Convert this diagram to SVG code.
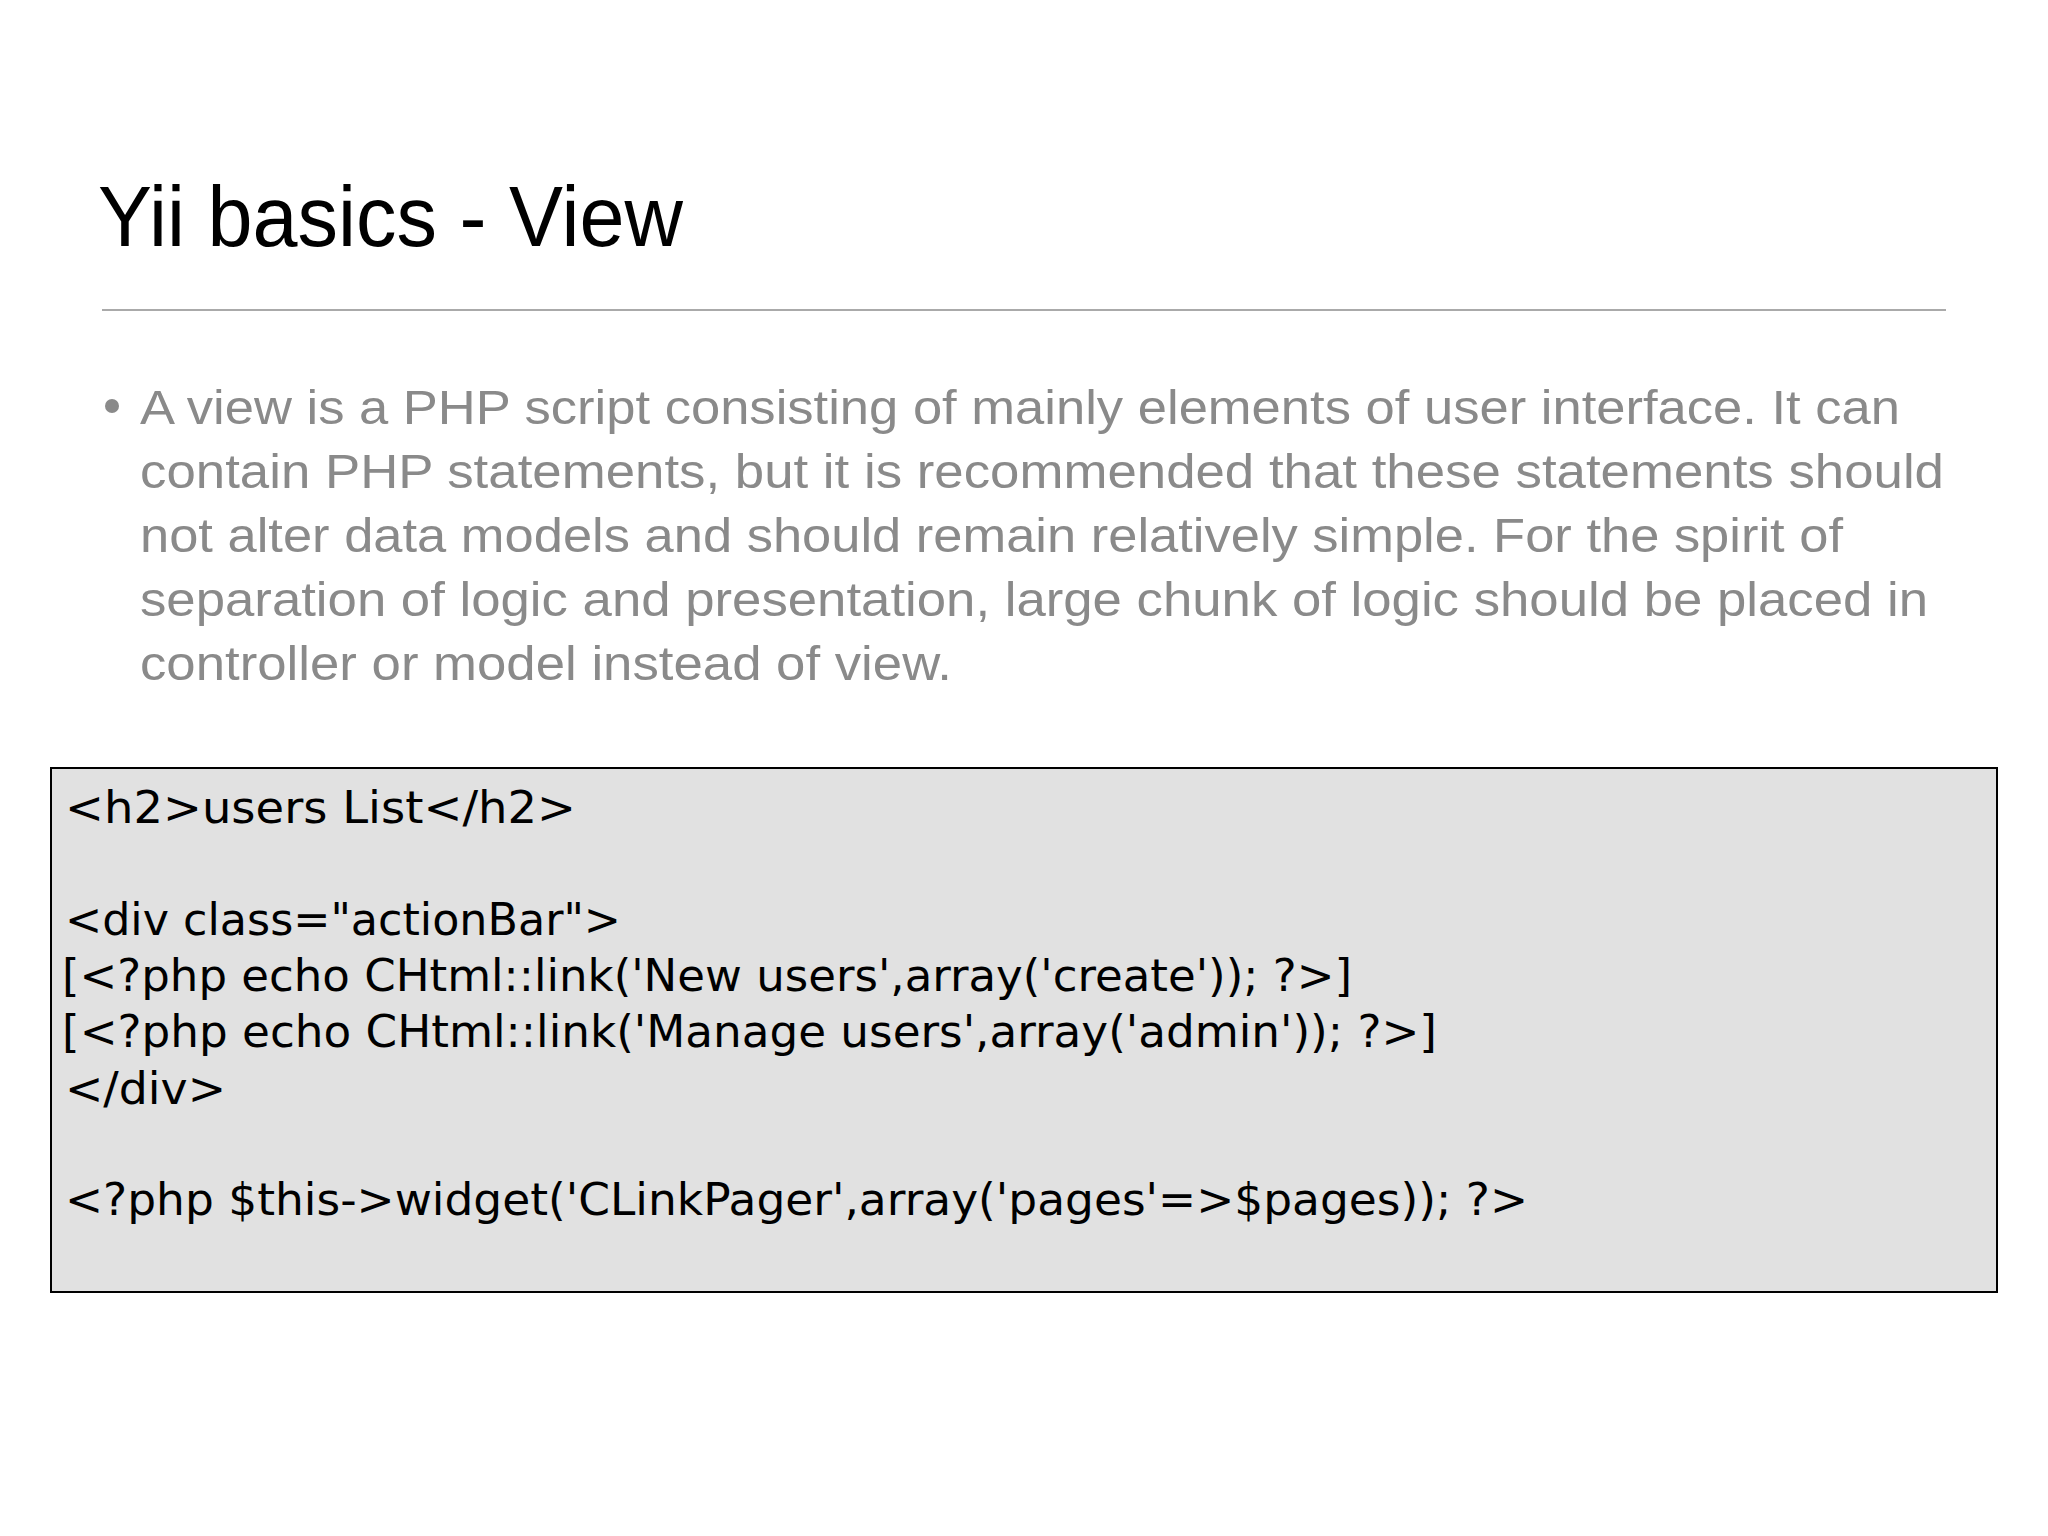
<svg xmlns="http://www.w3.org/2000/svg" width="2048" height="1536" viewBox="0 0 2048 1536">
<style>
.t{font-family:"Liberation Sans",Arial,sans-serif;}
.b{font-family:"Liberation Sans",Arial,sans-serif;font-size:49px;fill:#8a8a8a;}
.c{font-family:"DejaVu Sans",sans-serif;font-size:45px;fill:#000;}
</style>
<rect width="2048" height="1536" fill="#fff"/>
<g id="title"><text class="t" x="98" y="246" font-size="85" fill="#000" textLength="585" lengthAdjust="spacingAndGlyphs">Yii basics - View</text></g>
<line x1="102" y1="310" x2="1946" y2="310" stroke="#aaa" stroke-width="2"/>
<g id="bullet">
<circle cx="112" cy="406" r="7" fill="#8a8a8a"/>
<text class="b" x="140" y="424" textLength="1760" lengthAdjust="spacingAndGlyphs">A view is a PHP script consisting of mainly elements of user interface. It can</text>
<text class="b" x="140" y="488" textLength="1804" lengthAdjust="spacingAndGlyphs">contain PHP statements, but it is recommended that these statements should</text>
<text class="b" x="140" y="552" textLength="1703" lengthAdjust="spacingAndGlyphs">not alter data models and should remain relatively simple. For the spirit of</text>
<text class="b" x="140" y="616" textLength="1788" lengthAdjust="spacingAndGlyphs">separation of logic and presentation, large chunk of logic should be placed in</text>
<text class="b" x="140" y="680" textLength="812" lengthAdjust="spacingAndGlyphs">controller or model instead of view.</text>
</g>
<g id="code">
<rect x="51" y="768" width="1946" height="524" fill="#e1e1e1" stroke="#000" stroke-width="2"/>
<text class="c" x="65" y="823" textLength="511" lengthAdjust="spacingAndGlyphs">&lt;h2&gt;users List&lt;/h2&gt;</text>
<text class="c" x="65" y="935" textLength="556" lengthAdjust="spacingAndGlyphs">&lt;div class="actionBar"&gt;</text>
<text class="c" x="62" y="991" textLength="1290" lengthAdjust="spacingAndGlyphs">[&lt;?php echo CHtml::link('New users',array('create')); ?&gt;]</text>
<text class="c" x="62" y="1047" textLength="1375" lengthAdjust="spacingAndGlyphs">[&lt;?php echo CHtml::link('Manage users',array('admin')); ?&gt;]</text>
<text class="c" x="65" y="1104" textLength="161" lengthAdjust="spacingAndGlyphs">&lt;/div&gt;</text>
<text class="c" x="65" y="1215" textLength="1463" lengthAdjust="spacingAndGlyphs">&lt;?php $this-&gt;widget('CLinkPager',array('pages'=&gt;$pages)); ?&gt;</text>
</g>
</svg>
